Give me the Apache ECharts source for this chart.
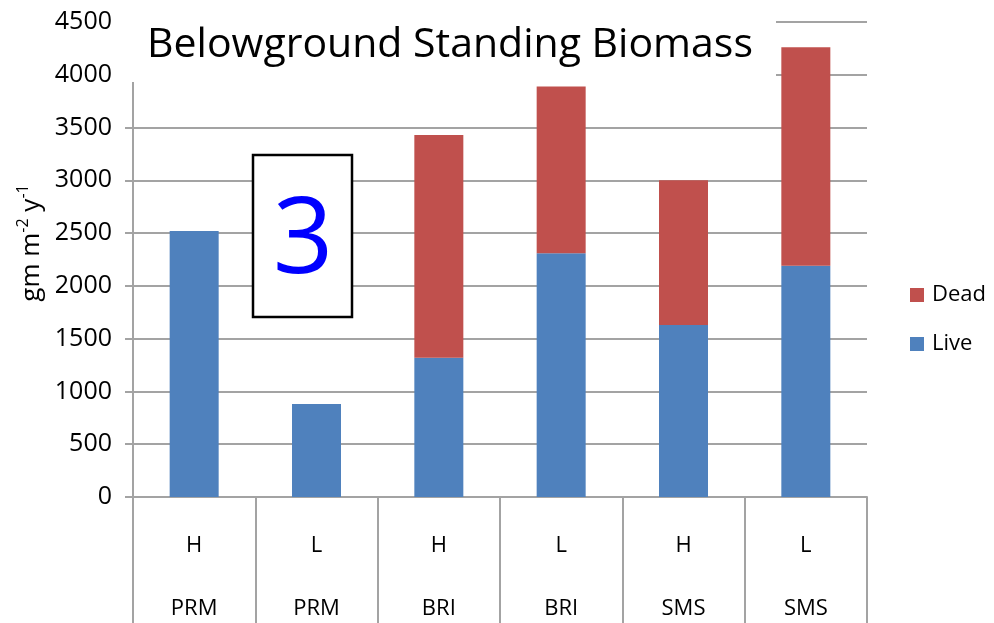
<!DOCTYPE html>
<html>
<head>
<meta charset="utf-8">
<script src="https://cdn.jsdelivr.net/npm/echarts@6/dist/echarts.min.js"></script>
<style>html,body{margin:0;padding:0;background:#fff}#c{width:994px;height:623px}</style>
</head>
<body>
<div id="c"></div>
<script>
var sites = ['PRM', 'PRM', 'BRI', 'BRI', 'SMS', 'SMS'];
var levels = ['H', 'L', 'H', 'L', 'H', 'L'];
var liveValues = [2520, 880, 1320, 2310, 1630, 2190];
var deadValues = [null, null, 2110, 1580, 1370, 2070];
var yTicks = [0, 500, 1000, 1500, 2000, 2500, 3000, 3500, 4000, 4500];

var categories = levels.map(function (l, i) { return l + '\n' + sites[i]; });
var gridColor = '#A3A3A3';
var chart = echarts.init(document.getElementById('c'));
chart.setOption({
  animation: false,
  backgroundColor: '#fff',
  textStyle: { fontFamily: 'Open Sans' },
  grid: { left: 133, right: 127, top: 22, bottom: 126, containLabel: false, outerBoundsMode: 'none' },
  legend: {
    orient: 'vertical', left: 905, top: 279,
    data: ['Dead', 'Live'], icon: 'rect',
    itemWidth: 14, itemHeight: 14, itemGap: 27,
    textStyle: { fontSize: 22, color: '#000', fontFamily: 'Open Sans', padding: [0, 0, 0, 3] }
  },
  xAxis: {
    type: 'category', data: categories,
    axisLine: { lineStyle: { color: gridColor, width: 2 } },
    axisTick: { show: true, length: 130, interval: 0, lineStyle: { color: gridColor, width: 2 } },
    axisLabel: { interval: 0, color: '#000', fontSize: 22, lineHeight: 63, margin: 17, fontFamily: 'Open Sans' }
  },
  yAxis: {
    type: 'value', min: yTicks[0], max: yTicks[yTicks.length - 1], interval: 500,
    axisLine: { show: true, lineStyle: { color: gridColor, width: 2 } },
    axisTick: { show: true, length: 8, lineStyle: { color: gridColor, width: 2 } },
    splitLine: { lineStyle: { color: gridColor, width: 2 } },
    axisLabel: { color: '#000', fontSize: 25, margin: 21, fontFamily: 'Open Sans', formatter: function (v) { return String(v); } }
  },
  series: [
    { name: 'Live', type: 'bar', stack: 'b', data: liveValues, barWidth: 49, itemStyle: { color: '#4F81BD' } },
    { name: 'Dead', type: 'bar', stack: 'b', data: deadValues, barWidth: 49, itemStyle: { color: '#C0504D' } }
  ],
  graphic: [
    { type: 'rect', z: 50, shape: { x: 121, y: 12, width: 655, height: 70 }, style: { fill: '#fff' } },
    { type: 'text', z: 51, x: 450, y: 45, style: { text: 'Belowground Standing Biomass', fontSize: 41, fontFamily: 'Open Sans', fill: '#000', align: 'center', verticalAlign: 'middle' } },
    { type: 'rect', z: 50, shape: { x: 253, y: 155, width: 99, height: 162 }, style: { fill: '#fff', stroke: '#000', lineWidth: 2.5 } },
    { type: 'text', z: 51, x: 303, y: 243, style: { text: '3', fontSize: 106, fontFamily: 'Open Sans', fill: '#0000FF', align: 'center', verticalAlign: 'middle' } },
    { type: 'text', z: 51, x: 30, y: 243, rotation: Math.PI / 2,
      style: {
        text: '{b|gm m}{s|-2}{b| y}{s|-1}', align: 'center', verticalAlign: 'middle',
        rich: {
          b: { fontSize: 26, lineHeight: 30, fill: '#000', fontFamily: 'Open Sans', verticalAlign: 'bottom' },
          s: { fontSize: 16, lineHeight: 22, fill: '#000', fontFamily: 'Open Sans', verticalAlign: 'top' }
        }
      }
    }
  ]
});
</script>
</body>
</html>
